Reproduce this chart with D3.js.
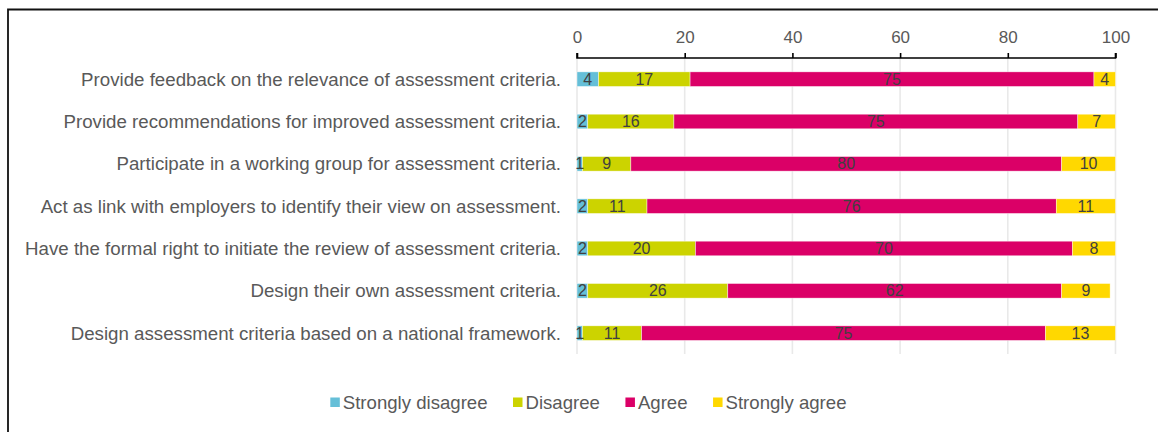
<!DOCTYPE html>
<html>
<head>
<meta charset="utf-8">
<script src="https://cdn.jsdelivr.net/npm/d3@7"></script>
<style>
  html, body { margin: 0; padding: 0; background: #fff; }
  svg { display: block; font-family: Arial, "Liberation Sans", sans-serif; }
</style>
</head>
<body>
<svg id="chart" width="1158" height="432"></svg>
<script>
// Survey statements (top to bottom)
const categories = [
  "Provide feedback on the relevance of assessment criteria.",
  "Provide recommendations for improved assessment criteria.",
  "Participate in a working group for assessment criteria.",
  "Act as link with employers to identify their view on assessment.",
  "Have the formal right to initiate the review of assessment criteria.",
  "Design their own assessment criteria.",
  "Design assessment criteria based on a national framework."
];

// Response shares (%) per statement
const stronglyDisagree = [4, 2, 1, 2, 2, 2, 1];
const disagree         = [17, 16, 9, 11, 20, 26, 11];
const agree            = [75, 75, 80, 76, 70, 62, 75];
const stronglyAgree    = [4, 7, 10, 11, 8, 9, 13];

const seriesNames = ["Strongly disagree", "Disagree", "Agree", "Strongly agree"];
const seriesColors = ["#65BFD8", "#CCD300", "#DB0067", "#FFD800"];
const tickValues = [0, 20, 40, 60, 80, 100];

const rows = categories.map((c, i) => ({
  category: c,
  "Strongly disagree": stronglyDisagree[i],
  "Disagree": disagree[i],
  "Agree": agree[i],
  "Strongly agree": stronglyAgree[i]
}));

const svg = d3.select("#chart");

// Outer frame (top and left edges)
svg.append("path")
  .attr("d", "M8,432 V9.5 H1158")
  .attr("fill", "none")
  .attr("stroke", "#111")
  .attr("stroke-width", 1.8);

const x = d3.scaleLinear().domain([0, 100]).range([577, 1115.5]);
const y = d3.scaleBand().domain(categories).range([58, 354.3])
  .paddingInner(0.655).paddingOuter(0.3275);

const axisY = 58;
const gridBottom = 354;

// Vertical gridlines
svg.append("g").selectAll("line")
  .data(tickValues)
  .join("line")
  .attr("x1", d => x(d)).attr("x2", d => x(d))
  .attr("y1", axisY).attr("y2", gridBottom)
  .attr("stroke", "#e9e9e9")
  .attr("stroke-width", 1.6);

// Stacked bars
const stack = d3.stack().keys(seriesNames);
const stacked = stack(rows);
const color = d3.scaleOrdinal().domain(seriesNames).range(seriesColors);

const layers = svg.append("g").selectAll("g")
  .data(stacked)
  .join("g")
  .attr("fill", d => color(d.key));

layers.selectAll("rect")
  .data(d => d)
  .join("rect")
  .attr("x", d => x(d[0]))
  .attr("width", d => x(d[1]) - x(d[0]))
  .attr("y", d => y(d.data.category))
  .attr("height", y.bandwidth())
  .attr("stroke", "#fff")
  .attr("stroke-width", 0.6)
  .attr("stroke-opacity", 0.7);

// Value labels inside each segment
const labels = svg.append("g");
stacked.forEach(layer => {
  labels.selectAll(null)
    .data(layer)
    .join("text")
    .attr("x", d => x((d[0] + d[1]) / 2))
    .attr("y", d => y(d.data.category) + y.bandwidth() / 2)
    .attr("dy", "0.35em")
    .attr("text-anchor", "middle")
    .attr("font-size", 16)
    .attr("fill", "#404040")
    .text(d => d[1] - d[0]);
});

// Top axis
const axis = d3.axisTop(x).tickValues(tickValues).tickSize(5).tickPadding(10);
const axisG = svg.append("g")
  .attr("transform", `translate(0,${axisY})`)
  .call(axis);
axisG.select(".domain")
  .attr("d", `M${x(0)},-5V0H${x(100)}V-5`)
  .attr("stroke", "#000")
  .attr("stroke-width", 1.6);
axisG.selectAll(".tick line").attr("stroke", "#000").attr("stroke-width", 1.6);
axisG.selectAll(".tick text")
  .attr("font-size", 17)
  .attr("font-family", "Arial, 'Liberation Sans', sans-serif")
  .attr("fill", "#595959");

// Category labels
svg.append("g").selectAll("text")
  .data(categories)
  .join("text")
  .attr("x", 561)
  .attr("y", d => y(d) + y.bandwidth() / 2)
  .attr("dy", "0.35em")
  .attr("text-anchor", "end")
  .attr("font-size", 18.7)
  .attr("fill", "#595959")
  .text(d => d);

// Legend
const legend = svg.append("g");
const legendItems = legend.selectAll("g")
  .data(seriesNames)
  .join("g");
legendItems.append("rect")
  .attr("width", 9.5).attr("height", 9.5)
  .attr("y", 397.5)
  .attr("fill", d => color(d));
legendItems.append("text")
  .attr("x", 12.5)
  .attr("y", 409)
  .attr("font-size", 18.6)
  .attr("fill", "#595959")
  .text(d => d);

let offsets = [];
let cursor = 0;
legendItems.each(function () {
  const w = 12.5 + d3.select(this).select("text").node().getComputedTextLength();
  offsets.push(cursor);
  cursor += w + 25.5;
});
const totalWidth = cursor - 25.5;
const legendStart = 588.4 - totalWidth / 2;
legendItems.attr("transform", (d, i) => `translate(${legendStart + offsets[i]},0)`);
</script>
</body>
</html>
